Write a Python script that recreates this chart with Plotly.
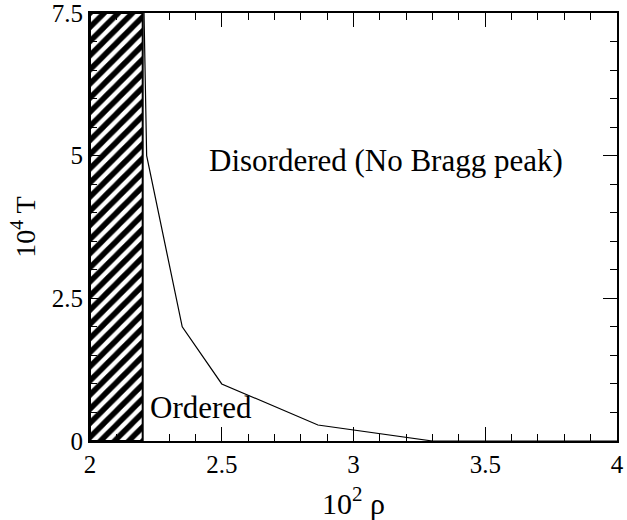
import plotly.graph_objects as go

# boundary curve (10^2 rho, 10^4 T)
rho = [2.205, 2.215, 2.35, 2.5, 2.865, 3.3, 4.0]
temp = [7.5, 5.0, 2.0, 1.0, 0.28, 0.0, 0.0]

# ordered (hatched) region bounds
ord_x = [2.0, 2.2, 2.2, 2.0, 2.0]
ord_y = [0.0, 0.0, 7.5, 7.5, 0.0]

xticks = [2, 2.5, 3, 3.5, 4]
yticks = [0, 2.5, 5, 7.5]
xtick_text = ["2", "2.5", "3", "3.5", "4"]
ytick_text = ["0", "2.5", "5", "7.5"]

FONT = "Liberation Serif"

fig = go.Figure()
fig.add_trace(go.Scatter(
    x=ord_x, y=ord_y, mode="lines", fill="toself",
    fillcolor="white",
    fillpattern=dict(shape="/", fgcolor="black", bgcolor="white", fgopacity=1,
                     size=10, solidity=0.55),
    line=dict(color="black", width=2),
    hoverinfo="skip", showlegend=False,
))
fig.add_trace(go.Scatter(
    x=rho, y=temp, mode="lines",
    line=dict(color="black", width=1.2),
    showlegend=False,
))

fig.add_annotation(x=2.444, y=4.92, text="Disordered (No Bragg peak)", showarrow=False,
                   xanchor="left", yanchor="middle", font=dict(family=FONT, size=31, color="black"))
fig.add_annotation(x=2.22, y=0.58, text="Ordered", showarrow=False,
                   xanchor="left", yanchor="middle", font=dict(family=FONT, size=31, color="black"))

axis_common = dict(
    showline=True, linecolor="black", linewidth=2, mirror="allticks",
    ticks="inside", ticklen=14, tickwidth=1, tickcolor="black",
    showgrid=False, zeroline=False, ticklabeloverflow="allow", automargin=False,
    tickfont=dict(family=FONT, size=25, color="black"),
)

fig.update_xaxes(
    range=[2, 4], tickvals=xticks, ticktext=xtick_text,
    minor=dict(ticks="inside", ticklen=7, dtick=0.1, tickcolor="black", tickwidth=1),
    title=dict(text="10<sup>2</sup> ρ", font=dict(family=FONT, size=30, color="black"), standoff=16),
    **axis_common,
)
fig.update_yaxes(
    range=[0, 7.5], tickvals=yticks, ticktext=ytick_text,
    minor=dict(ticks="inside", ticklen=7, dtick=0.5, tickcolor="black", tickwidth=1),
    title=dict(text="10<sup>4</sup> T", font=dict(family=FONT, size=28, color="black"), standoff=8),
    **axis_common,
)

fig.update_layout(
    width=627, height=520,
    margin=dict(l=90, r=10, t=13, b=79),
    plot_bgcolor="white", paper_bgcolor="white",
)

fig.write_html("out.html")
